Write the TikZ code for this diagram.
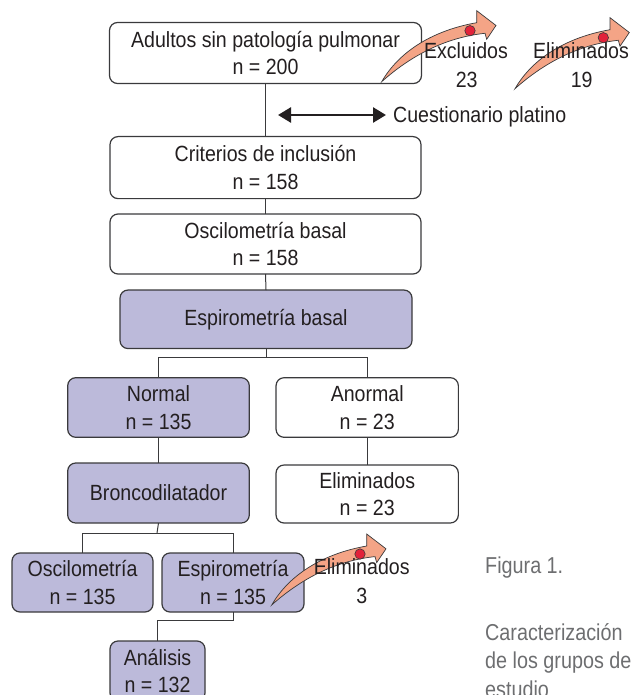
\documentclass[tikz,border=0pt]{standalone}
\usepackage{fontspec}
\setmainfont{Liberation Sans}[FakeStretch=0.89]
\newfontfamily\capfont{Liberation Sans}[FakeStretch=0.86]
\usetikzlibrary{arrows.meta}
\definecolor{lav}{HTML}{BCBADA}
\definecolor{salmon}{HTML}{F4A486}
\definecolor{dotred}{HTML}{E2223A}
\definecolor{edgec}{HTML}{3A3A3C}
\definecolor{ink}{HTML}{231F20}
\definecolor{capgray}{HTML}{6D6E70}
\tikzset{
  flowbox/.style={draw=edgec, line width=1.2pt, rounded corners=8pt, align=center,
    inner sep=0pt, outer sep=0pt, text=ink, font=\fontsize{22}{27.3}\selectfont},
  filledbox/.style={flowbox, fill=lav},
  whitebox/.style={flowbox, fill=white},
  link/.style={draw=edgec, line width=1pt},
  lbl/.style={text=ink, font=\fontsize{22}{25}\selectfont, inner sep=0pt, anchor=base},
  caplbl/.style={text=capgray, font=\capfont\fontsize{23}{25}\selectfont, inner sep=0pt, anchor=base west},
  bigarrow/.style={fill=salmon, draw=edgec, line width=0.7pt},
  reddot/.style={fill=dotred, draw=edgec, line width=0.6pt},
}
\newcommand{\curvedarrow}[1]{%
  \begin{scope}[shift={#1}]
    \path[bigarrow] (381.7,81.7) .. controls (400,50) and (435,30) .. (476.7,22.7)
      -- (476.7,10.7) -- (496,25.5) -- (486.7,39.3) -- (485,33.3)
      .. controls (450,37) and (415,52) .. cycle;
    \path[reddot] (470,30.7) circle (5.2pt);
  \end{scope}}
\begin{document}
\begin{tikzpicture}[x=1pt,y=-1pt]
  \useasboundingbox (0,0) rectangle (634,695);
  \clip (0,0) rectangle (634,695);

  % boxes
  \node[whitebox, minimum width=312pt, minimum height=61pt] (b1) at (265.5,53) {Adultos sin patología pulmonar\\n = 200};
  \node[whitebox, minimum width=311pt, minimum height=62pt] (b2) at (265.5,167.6) {Criterios de inclusión\\n = 158};
  \node[whitebox, minimum width=311pt, minimum height=60pt] (b3) at (265.5,244) {Oscilometría basal\\n = 158};
  \node[filledbox, minimum width=292pt, minimum height=58.5pt] (b4) at (266,319.3) {Espirometría basal};
  \node[filledbox, minimum width=181.6pt, minimum height=59.6pt] (normal) at (158.5,407.5) {Normal\\n = 135};
  \node[whitebox, minimum width=182.3pt, minimum height=59.6pt] (anormal) at (367.2,407.5) {Anormal\\n = 23};
  \node[filledbox, minimum width=181.6pt, minimum height=60pt] (bronco) at (158.5,493) {Broncodilatador};
  \node[whitebox, minimum width=182.3pt, minimum height=58pt] (elim) at (367.2,494) {Eliminados\\n = 23};
  \node[filledbox, minimum width=141pt, minimum height=59pt] (oscil) at (82.5,582.5) {Oscilometría\\n = 135};
  \node[filledbox, minimum width=142pt, minimum height=59pt] (espir) at (233,582.5) {Espirometría\\n = 135};
  \node[filledbox, minimum width=95pt, minimum height=60pt] (anal) at (157.5,671) {Análisis\\n = 132};

  % connectors
  \draw[link] (b1.south) -- (b2.north);
  \draw[link] (b2.south) -- (b3.north);
  \draw[link] (b3.south) -- (b4.north);
  \draw[link] (b4.south) -- ++(0,8.5) -| (normal.north);
  \draw[link] (b4.south) -- ++(0,8.5) -| (anormal.north);
  \draw[link] (normal.south) -- (bronco.north);
  \draw[link] (anormal.south) -- (elim.north);
  \coordinate (split) at (157,533);
  \draw[link] (bronco.south) -- (split);
  \draw[link] (split) -| (oscil.north);
  \draw[link] (split) -| (espir.north);
  \draw[link] (espir.south) -- ++(0,8.5) -| (anal.north);

  % questionnaire double arrow
  \coordinate (qa) at (278,115);
  \coordinate (qb) at (386,115);
  \draw[draw=ink, line width=2.6pt, {Triangle[length=13pt,width=15pt]}-{Triangle[length=13pt,width=15pt]}] (qa) -- (qb);
  \node[lbl, anchor=base west] (quest) at (393,123) {Cuestionario platino};

  % curved exclusion arrows
  \curvedarrow{(0,0)}
  \curvedarrow{(133.3,7)}
  \curvedarrow{(-110,523.3)}

  \node[lbl] (exc) at (466,59) {Excluidos};
  \node[lbl] (excn) at (466.7,87.3) {23};
  \node[lbl] (el1) at (581,59) {Eliminados};
  \node[lbl] (el1n) at (581.7,87.3) {19};
  \node[lbl] (el2) at (361.7,574) {Eliminados};
  \node[lbl] (el2n) at (361.7,603) {3};

  % caption
  \node[caplbl] (fig) at (485,573) {Figura 1.};
  \node[caplbl] (cap1) at (485,640) {Caracterización};
  \node[caplbl] (cap2) at (485,668.5) {de los grupos de};
  \node[caplbl] (cap3) at (485,697) {estudio};
\end{tikzpicture}
\end{document}
